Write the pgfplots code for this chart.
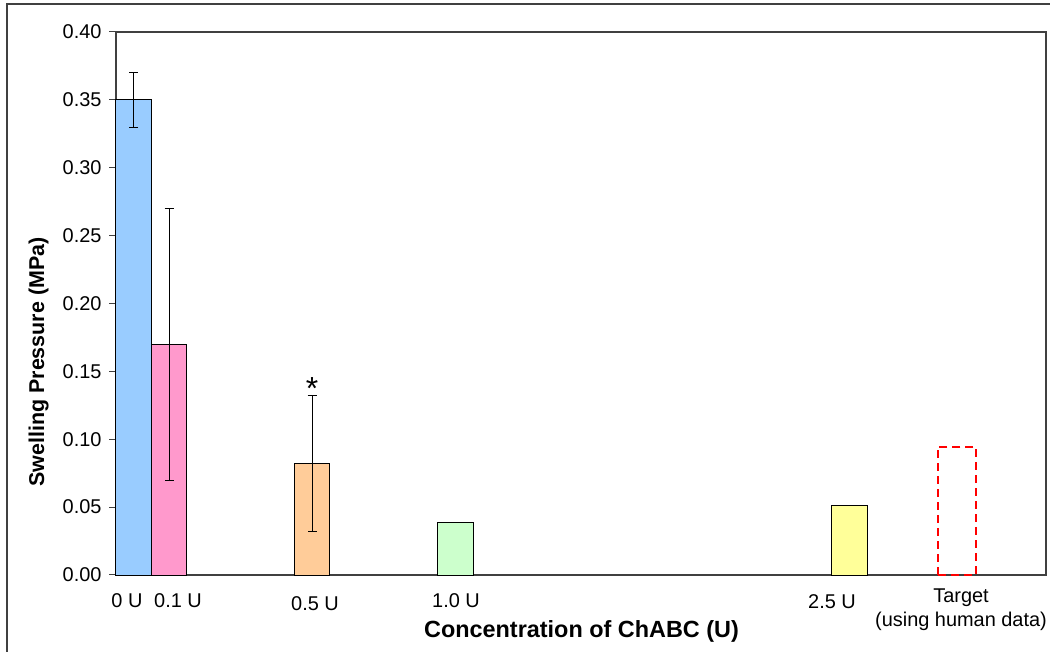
\documentclass[border=0pt]{standalone}
\usepackage{fontspec}
\setmainfont{Liberation Sans}
\usepackage{pgfplots}
\pgfplotsset{compat=1.18}
\definecolor{cblue}{HTML}{99CCFF}
\definecolor{cpink}{HTML}{FF99CC}
\definecolor{corange}{HTML}{FFCC99}
\definecolor{cgreen}{HTML}{CCFFCC}
\definecolor{cyellow}{HTML}{FFFF99}
\definecolor{cframe}{HTML}{404040}
\begin{document}
\begin{tikzpicture}[x=1bp,y=1bp]
\useasboundingbox (0,0) rectangle (1050,652);
\draw[line width=1.5bp, cframe] (7,-20) rectangle (1080,648);
\begin{axis}[
  at={(116bp,77bp)}, anchor=south west,
  scale only axis, width=930bp, height=543bp,
  xmin=0, xmax=930, ymin=0, ymax=0.4,
  axis line style={line width=1.2bp, cframe},
  xtick=\empty,
  ytick={0,0.05,0.1,0.15,0.2,0.25,0.3,0.35,0.4},
  ytick pos=left,
  tick align=outside, major tick length=7bp,
  y tick style={cframe, line width=1bp},
  yticklabel style={xshift=-4bp, /pgf/number format/.cd, fixed, fixed zerofill, precision=2, assume math mode=true},
  ticklabel style={font=\fontsize{20}{24}\selectfont},
  clip=false,
  mybar/.style={ybar, bar shift=0pt, bar width=35.7, draw=black, line width=0.8bp},
  myerr/.style={error bars/.cd, y dir=both, y explicit, error mark=-,
     error bar style={black, line width=0.8bp, solid},
     error mark options={black, mark size=4.5bp, line width=0.8bp, rotate=90}},
]
\addplot[mybar, fill=cblue, myerr]
  coordinates {(17.5,0.35) +- (0,0.02)};
\addplot[mybar, fill=cpink, myerr]
  coordinates {(53,0.17) +- (0,0.10)};
\addplot[mybar, fill=corange, myerr]
  coordinates {(196,0.082) +- (0,0.05)};
\addplot[mybar, fill=cgreen]
  coordinates {(339.5,0.039)};
\addplot[mybar, fill=cyellow]
  coordinates {(733.5,0.051)};
\addplot[ybar, bar shift=0pt, bar width=38, fill=none, draw=red, line width=2bp, dash pattern=on 8bp off 5bp]
  coordinates {(841,0.0945)};
\node[anchor=north, inner sep=0pt, font=\fontsize{32}{32}\selectfont] at (axis cs:196,0.1453) {*};
\begin{scope}[every node/.style={anchor=base, inner sep=0pt, font=\fontsize{20}{24}\selectfont}]
\node at (axis cs:11,-0.0236) {0 U};
\node at (axis cs:62,-0.0236) {0.1 U};
\node at (axis cs:199,-0.0262) {0.5 U};
\node at (axis cs:340,-0.0243) {1.0 U};
\node at (axis cs:716,-0.025) {2.5 U};
\node at (axis cs:845,-0.0206) {Target};
\node at (axis cs:845,-0.0376) {(using human data)};
\end{scope}
\end{axis}
\node[anchor=base, inner sep=0pt, font=\bfseries\fontsize{23.5}{28}\selectfont] at (581.5,14.3) {Concentration of ChABC (U)};
\node[anchor=base, rotate=90, inner sep=0pt, font=\bfseries\fontsize{21.5}{26}\selectfont] at (44,290) {Swelling Pressure (MPa)};
\end{tikzpicture}
\end{document}
